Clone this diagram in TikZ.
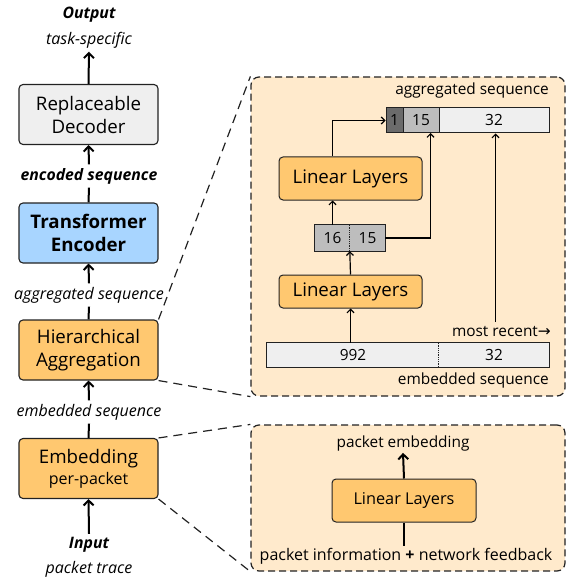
\documentclass[tikz,border=0pt]{standalone}
\usepackage{fontspec}
\setmainfont{Open Sans}
\newfontfamily\symfont{DejaVu Sans}
\usetikzlibrary{arrows.meta}
\definecolor{orangefill}{HTML}{FFC870}
\definecolor{bluefill}{HTML}{A8D5FF}
\definecolor{lightfill}{HTML}{EFEFEF}
\definecolor{panelfill}{HTML}{FFEACC}
\definecolor{midfill}{HTML}{BDBDBD}
\definecolor{darkfill}{HTML}{6B6B6B}
\definecolor{edge}{HTML}{222222}
\begin{document}
\begin{tikzpicture}[x=1pt,y=-1pt,
  bigbox/.style={draw=edge, line width=1.1pt, rounded corners=4pt, minimum width=139pt, minimum height=60pt, align=center, inner sep=0pt, font=\fontsize{18.7}{23}\selectfont},
  llbox/.style={draw=edge, line width=1pt, rounded corners=4pt, fill=orangefill, inner sep=0pt, align=center},
  lbl/.style={font=\fontsize{16}{18}\selectfont\itshape, inner sep=3.5pt},
  blbl/.style={font=\fontsize{15.8}{18}\selectfont\bfseries\itshape, inner sep=3.5pt},
  txt/.style={font=\fontsize{15.4}{18}\selectfont, inner sep=2pt},
  cell/.style={minimum height=25pt, inner sep=0pt, font=\fontsize{15.4}{18}\selectfont},
  bigarr/.style={line width=2pt, -{Straight Barb[length=5pt,width=10pt,line width=2pt]}},
  bigline/.style={line width=2pt},
  arr/.style={line width=1.2pt, -{Straight Barb[length=3.5pt,width=7pt,line width=1.2pt]}},
  panel/.style={draw=edge, fill=panelfill, line width=1.2pt, dash pattern=on 7pt off 4pt, rounded corners=8pt},
  link/.style={draw=edge, line width=1.2pt, dash pattern=on 9pt off 6pt}
]
\useasboundingbox (0,0) rectangle (566,577);

% ---------- panels ----------
\node[panel, minimum width=314pt, minimum height=319pt, inner sep=0pt] (p1) at (408,236.5) {};
\node[panel, minimum width=314pt, minimum height=146pt, inner sep=0pt] (p2) at (408,498) {};

% ---------- left column ----------
\node[blbl] (out) at (89,15) {Output};
\node[lbl] (task) at (89,40) {task-specific};
\node[bigbox, fill=lightfill] (dec) at (88.5,114.5) {Replaceable\\Decoder};
\node[blbl] (encseq) at (89,176) {encoded sequence};
\node[bigbox, fill=bluefill, font=\fontsize{18.7}{23}\selectfont\bfseries] (enc) at (88.5,233) {Transformer\\Encoder};
\node[lbl] (aggseq) at (89,295) {aggregated sequence};
\node[bigbox, fill=orangefill] (ha) at (88.5,350) {Hierarchical\\Aggregation};
\node[lbl] (embseq) at (89,412) {embedded sequence};
\node[bigbox, fill=orangefill] (emb) at (88.5,468.5) {Embedding\\[-2pt]{\fontsize{16}{18}\selectfont per-packet}};
\node[blbl] (inp) at (89,545) {Input};
\node[lbl] (trace) at (89,569) {packet trace};

\draw[bigarr] (dec.north) -- (task.south);
\draw[bigarr] (encseq.north) -- (dec.south);
\draw[bigline] (encseq.south) -- (enc.north);
\draw[bigarr] (aggseq.north) -- (enc.south);
\draw[bigline] (aggseq.south) -- (ha.north);
\draw[bigarr] (embseq.north) -- (ha.south);
\draw[bigline] (embseq.south) -- (emb.north);
\draw[bigarr] (inp.north) -- (emb.south);

% ---------- dashed links ----------
\draw[link] (ha.north east) -- (p1.north west);
\draw[link] (ha.south east) -- (p1.south west);
\draw[link] (emb.north east) -- (p2.north west);
\draw[link] (emb.south east) -- (p2.south west);

% ---------- panel 1 ----------
\node[txt, anchor=east] (aggt) at (551,91) {aggregated sequence};
\node[cell, fill=darkfill, draw=edge, line width=1pt, minimum width=17pt] (c1) at (394.5,120.5) {1};
\node[cell, fill=midfill, draw=edge, line width=1pt, minimum width=36pt] (c15) at (421,120.5) {15};
\node[cell, fill=lightfill, draw=edge, line width=1pt, minimum width=110pt] (c32) at (494,120.5) {32};

\node[llbox, minimum width=143pt, minimum height=43pt, font=\fontsize{18.7}{21}\selectfont] (ll1) at (350.5,178.5) {Linear Layers};

\node[cell, fill=midfill, minimum width=35pt, minimum height=26pt] (sb1) at (332.5,238) {16};
\node[cell, fill=midfill, minimum width=35pt, minimum height=26pt] (sb2) at (367.5,238) {15};
\draw[draw=edge, line width=1pt] (sb1.north west) rectangle (sb2.south east);
\draw[draw=edge, densely dotted, line width=0.8pt] (sb2.north west) -- (sb2.south west);

\node[llbox, minimum width=143pt, minimum height=33pt, font=\fontsize{18.7}{21}\selectfont] (ll2) at (350.5,291.5) {Linear Layers};

\node[txt, anchor=east] (mr) at (553,331) {most recent{\symfont\char"2192}};
\node[cell, fill=lightfill, minimum width=172pt, minimum height=24pt] (eb1) at (353,355) {992};
\node[cell, fill=lightfill, minimum width=110pt, minimum height=24pt] (eb2) at (494,355) {32};
\draw[draw=edge, line width=1pt] (eb1.north west) rectangle (eb2.south east);
\draw[draw=edge, densely dotted, line width=0.8pt] (eb2.north west) -- (eb2.south west);
\node[txt, anchor=east] (embt) at (551,380) {embedded sequence};

\coordinate (j15) at (430.5,133);
\coordinate (mrtop) at (495.5,322);

\draw[arr] (eb1.north -| ll2.north) -- (ll2.south);
\draw[arr] (ll2.north) -- (sb2.south west);
\draw[arr] (sb1.north) -- (sb1.north |- ll1.south);
\draw[arr] (ll1.north -| sb1.north) |- (c1.west);
\draw[arr] (sb2.east) -| (j15);
\draw[arr] (mrtop) -- (mrtop |- c32.south);

% ---------- panel 2 ----------
\node[txt, font=\fontsize{15.4}{18}\selectfont] (pe) at (403,443) {packet embedding};
\node[llbox, minimum width=144pt, minimum height=43pt, font=\fontsize{16.3}{19}\selectfont] (ll3) at (404,500.5) {Linear Layers};
\node[txt, font=\fontsize{16}{18}\selectfont] (pinfo) at (406,556) {packet information \textbf{+} network feedback};
\draw[bigarr] (ll3.north) -- (pe.south);
\draw[bigline] (pinfo.north -| ll3.south) -- (ll3.south);
\end{tikzpicture}
\end{document}
